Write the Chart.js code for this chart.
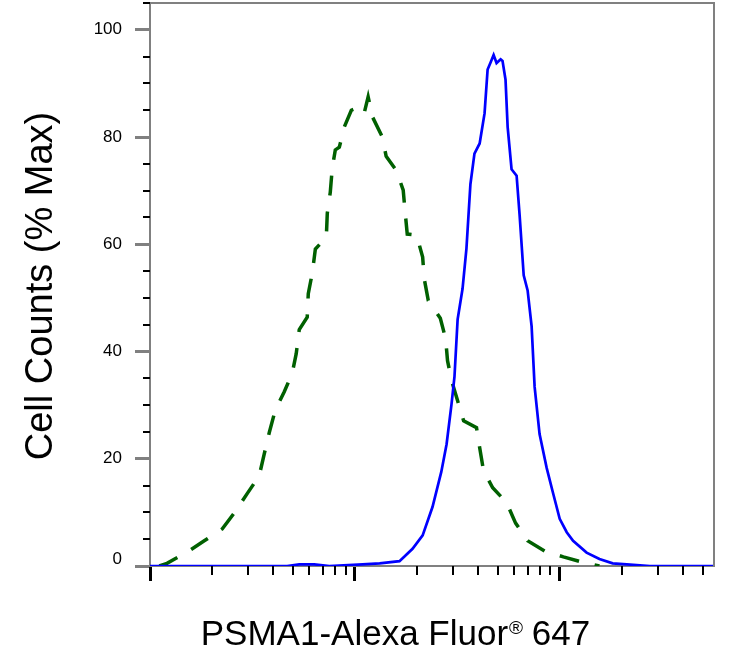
<!DOCTYPE html>
<html>
<head>
<meta charset="utf-8">
<script src="https://cdn.jsdelivr.net/npm/chart.js@4.4.0/dist/chart.umd.min.js"></script>
<style>
  html, body { margin: 0; padding: 0; background: #fff; }
</style>
</head>
<body>
<canvas id="histChart" width="749" height="665"></canvas>
<script>
// isotype control (green dashed) - intensity on log axis, % of max
const controlX = [1.11, 1.21, 1.52, 1.84, 2.25, 2.60, 2.98, 3.41, 3.61, 3.82, 4.08, 4.52, 4.94, 5.17, 5.35,
  5.85, 5.92, 6.19, 6.41, 7.25, 7.33, 7.58, 7.75, 8.02, 8.39, 8.88, 9.60, 10.5, 11.1, 11.6,
  12.2, 13.6, 14.2, 15.9, 17.2, 17.6, 18.0, 20.0, 21.4, 21.8, 22.8, 26.1, 27.7, 28.3, 29.6,
  31.7, 33.9, 39.2, 40.6, 42.4, 47.0, 55.0, 60.8, 69.6, 84.3, 104, 129, 156];
const controlY = [0, 0.5, 2.6, 4.7, 6.9, 10.1, 13.5, 16.8, 20.9, 24.9, 29.0, 32.5, 35.9, 39.6, 44.1,
  46.4, 50.8, 54.6, 59.1, 61.3, 65.8, 69.7, 74.2, 77.6, 78.1, 81.9, 85.0, 85.6, 84.5, 87.5,
  83.7, 80.0, 76.4, 73.8, 70.1, 65.8, 61.9, 61.7, 57.6, 53.5, 49.5, 46.2, 42.4, 38.3, 34.6,
  30.8, 27.1, 25.8, 22.1, 17.8, 14.6, 11.8, 8.0, 4.7, 2.8, 1.7, 0.7, 0];

// PSMA1 stained (blue solid)
const psmaX = [1, 4.67, 5.35, 6.33, 7.50, 10.9, 13.2, 16.5, 19.1, 21.4, 23.9, 26.4, 28.0, 29.6, 30.6,
  31.7, 33.5, 35.0, 36.6, 38.3, 40.6, 42.9, 44.4, 45.9, 47.5, 49.1, 51.4, 52.5, 54.3, 55.6,
  58.1, 61.5, 63.6, 66.6, 69.6, 72.8, 75.3, 79.6, 86.2, 92.2, 99.8, 108, 116, 135, 156,
  181, 212, 275, 565];
const psmaY = [0, 0, 0.3, 0.3, 0, 0.3, 0.5, 0.9, 3.2, 5.7, 11.0, 17.6, 22.7, 30.2, 35.3,
  46.0, 51.7, 59.2, 71.2, 76.9, 78.8, 84.4, 92.6, 93.9, 95.3, 93.8, 94.5, 94.2, 90.7, 81.9,
  74.0, 72.8, 65.5, 54.2, 51.4, 44.7, 33.4, 24.6, 18.3, 13.9, 8.8, 6.3, 4.7, 2.5, 1.3,
  0.5, 0.3, 0, 0];

const yMajorTicks = [0, 20, 40, 60, 80, 100];
const yMinorTicks = [5, 10, 15, 25, 30, 35, 45, 50, 55, 65, 70, 75, 85, 90, 95, 105];
const xMajorTicks = [1, 10, 100];
const xMinorTicks = [2, 3, 4, 5, 6, 7, 8, 9, 20, 30, 40, 50, 60, 70, 80, 90, 200, 300, 400, 500];

const xTitle = ["PSMA1-Alexa Fluor", "\u00AE", " 647"];
const yTitle = "Cell Counts (% Max)";

const AXIS_GREY = "#808080";
const FONT = "'Liberation Sans', Arial, sans-serif";

const toPoints = (xs, ys) => xs.map((v, i) => ({ x: v, y: ys[i] }));

const extras = {
  id: "extras",
  afterDraw(chart) {
    const { ctx, chartArea: a, scales: { x, y } } = chart;
    ctx.save();

    // top and right frame
    ctx.strokeStyle = AXIS_GREY;
    ctx.lineWidth = 2;
    ctx.beginPath();
    ctx.moveTo(a.left, a.top);
    ctx.lineTo(a.right, a.top);
    ctx.lineTo(a.right, a.bottom);
    ctx.stroke();

    // minor ticks
    ctx.strokeStyle = "#000";
    ctx.lineWidth = 2;
    ctx.beginPath();
    yMinorTicks.forEach(v => {
      const py = Math.round(y.getPixelForValue(v));
      ctx.moveTo(a.left - 7, py);
      ctx.lineTo(a.left, py);
    });
    xMinorTicks.forEach(v => {
      const px = Math.round(x.getPixelForValue(v));
      ctx.moveTo(px, a.bottom);
      ctx.lineTo(px, a.bottom + 9);
    });
    ctx.stroke();

    // y tick labels (the 0 sits a bit above its tick)
    ctx.fillStyle = "#000";
    ctx.font = "17px " + FONT;
    ctx.textAlign = "right";
    ctx.textBaseline = "middle";
    yMajorTicks.forEach(v => {
      const py = y.getPixelForValue(v) - (v === 0 ? 7 : 0);
      ctx.fillText(String(v), a.left - 28, py);
    });

    // axis titles
    ctx.textBaseline = "alphabetic";
    ctx.font = "38px " + FONT;
    ctx.save();
    ctx.translate(52, 286);
    ctx.rotate(-Math.PI / 2);
    ctx.textAlign = "center";
    ctx.fillText(yTitle, 0, 0);
    ctx.restore();

    const bigFont = "35px " + FONT, smallFont = "19px " + FONT;
    ctx.font = bigFont;
    const w0 = ctx.measureText(xTitle[0]).width;
    const w2 = ctx.measureText(xTitle[2]).width;
    ctx.font = smallFont;
    const w1 = ctx.measureText(xTitle[1]).width + 1;
    let tx = 396 - (w0 + w1 + w2) / 2;
    const base = 645;
    ctx.textAlign = "left";
    ctx.font = bigFont;
    ctx.fillText(xTitle[0], tx, base);
    tx += w0 + 1;
    ctx.font = smallFont;
    ctx.fillText(xTitle[1], tx, base - 11);
    tx += w1;
    ctx.font = bigFont;
    ctx.fillText(xTitle[2], tx - 2, base);
    ctx.restore();
  }
};

new Chart(document.getElementById("histChart"), {
  type: "line",
  data: {
    datasets: [
      {
        label: "PSMA1",
        data: toPoints(psmaX, psmaY),
        borderColor: "#0000ff",
        borderWidth: 2.7,
        pointRadius: 0,
        tension: 0,
        order: 1
      },
      {
        label: "Isotype control",
        data: toPoints(controlX, controlY),
        borderColor: "#006000",
        borderWidth: 3.5,
        borderDash: [20, 16],
        pointRadius: 0,
        tension: 0,
        order: 2
      }
    ]
  },
  options: {
    responsive: false,
    animation: false,
    devicePixelRatio: 1,
    layout: { padding: { top: 3, right: 35, bottom: 0, left: 0 } },
    plugins: { legend: { display: false }, tooltip: { enabled: false } },
    scales: {
      x: {
        type: "logarithmic",
        min: 1,
        max: 565,
        afterBuildTicks: s => { s.ticks = xMajorTicks.map(v => ({ value: v })); },
        afterFit: s => { s.height = 99; s.paddingLeft = 0; s.paddingRight = 0; },
        ticks: { display: false },
        grid: { drawOnChartArea: false, tickLength: 15, tickWidth: 3, tickColor: "#000" },
        border: { color: AXIS_GREY, width: 2 }
      },
      y: {
        min: 0,
        max: 105,
        afterBuildTicks: s => { s.ticks = yMajorTicks.map(v => ({ value: v })); },
        afterFit: s => { s.width = 150; s.paddingTop = 0; s.paddingBottom = 0; },
        ticks: { display: false },
        grid: { drawOnChartArea: false, tickLength: 15, tickWidth: 3, tickColor: AXIS_GREY },
        border: { color: AXIS_GREY, width: 2 }
      }
    }
  },
  plugins: [extras]
});
</script>
</body>
</html>
